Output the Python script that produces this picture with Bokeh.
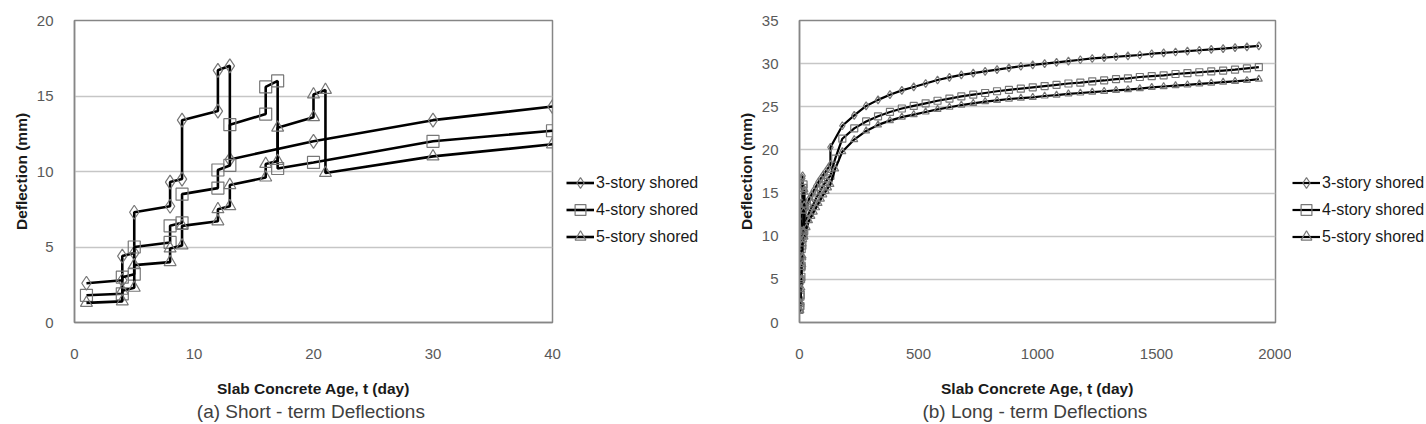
from bokeh.plotting import figure
from bokeh.layouts import row
from bokeh.models import Range1d, FixedTicker, Legend, LegendItem, LinearAxis
from bokeh.embed import file_html
from bokeh.resources import INLINE

# ---------------- data ----------------
series_names = ["3-story shored", "4-story shored", "5-story shored"]
markers = ["diamond", "square", "triangle"]

# (a) short-term deflections (day, mm)
st3_day = [1, 4, 4, 5, 5, 8, 8, 9, 9, 12, 12, 13, 13, 20, 30, 40]
st3_defl = [2.6, 2.8, 4.4, 4.6, 7.3, 7.7, 9.3, 9.5, 13.4, 14.0, 16.7, 17.0, 10.8, 12.0, 13.4, 14.3]

st4_day = [1, 4, 4, 5, 5, 8, 8, 9, 9, 12, 12, 13, 13, 16, 16, 17, 17, 20, 30, 40]
st4_defl = [1.8, 1.9, 3.0, 3.2, 5.0, 5.3, 6.4, 6.6, 8.5, 8.9, 10.1, 10.4, 13.1, 13.8, 15.6, 16.0, 10.2, 10.6, 12.0, 12.7]

st5_day = [1, 4, 4, 5, 5, 8, 8, 9, 9, 12, 12, 13, 13, 16, 16, 17, 17, 20, 20, 21, 21, 30, 40]
st5_defl = [1.3, 1.4, 2.1, 2.3, 3.8, 4.0, 4.9, 5.1, 6.4, 6.7, 7.5, 7.7, 9.1, 9.6, 10.5, 10.7, 12.9, 13.6, 15.1, 15.4, 9.9, 11.0, 11.8]

# (b) long-term deflections: early part after day 40
e3_day = [50, 60, 70, 80, 90, 100, 110, 120, 130, 130]
e3_defl = [14.8, 15.3, 15.8, 16.3, 16.7, 17.1, 17.5, 17.9, 18.3, 20.3]
e4_day = [50, 60, 70, 80, 90, 100, 110, 120, 130, 150]
e4_defl = [13.3, 13.8, 14.4, 14.9, 15.4, 15.9, 16.3, 16.7, 17.0, 19.0]
e5_day = [50, 60, 70, 80, 90, 100, 110, 120, 130, 150]
e5_defl = [12.3, 12.8, 13.3, 13.8, 14.3, 14.8, 15.2, 15.6, 16.0, 17.8]

# (b) long-term deflections: later part
lt_day = [180, 230, 280, 330, 380, 430, 480, 530, 580, 630, 680, 730, 780, 830, 880,
          930, 980, 1030, 1080, 1130, 1180, 1230, 1280, 1330, 1380, 1430, 1480, 1530,
          1580, 1630, 1680, 1730, 1780, 1830, 1880, 1930]
lt3_defl = [22.8, 24.0, 25.1, 25.8, 26.4, 26.9, 27.3, 27.7, 28.1, 28.4, 28.7, 28.9, 29.1,
            29.3, 29.5, 29.7, 29.85, 30.0, 30.15, 30.3, 30.45, 30.6, 30.7, 30.8, 30.9, 31.0,
            31.15, 31.25, 31.35, 31.45, 31.55, 31.65, 31.75, 31.85, 31.95, 32.05]
lt4_defl = [21.3, 22.5, 23.3, 23.9, 24.4, 24.8, 25.1, 25.4, 25.7, 25.95, 26.2, 26.4, 26.6,
            26.8, 26.95, 27.1, 27.25, 27.4, 27.55, 27.7, 27.8, 27.95, 28.05, 28.2, 28.3, 28.45,
            28.55, 28.65, 28.8, 28.9, 29.0, 29.1, 29.2, 29.3, 29.45, 29.6]
lt5_defl = [19.8, 21.2, 22.2, 22.9, 23.4, 23.8, 24.1, 24.4, 24.7, 24.95, 25.2, 25.4, 25.6,
            25.75, 25.9, 26.0, 26.1, 26.25, 26.35, 26.5, 26.6, 26.7, 26.8, 26.9, 27.0, 27.1,
            27.25, 27.35, 27.45, 27.55, 27.65, 27.75, 27.85, 27.95, 28.05, 28.2]

x_ticks_a = [0, 10, 20, 30, 40]
y_ticks_a = [0, 5, 10, 15, 20]
x_ticks_b = [0, 500, 1000, 1500, 2000]
y_ticks_b = [0, 5, 10, 15, 20, 25, 30, 35]

x_title = "Slab Concrete Age, t (day)"
y_title = "Deflection (mm)"
caption_a = "(a)  Short - term Deflections"
caption_b = "(b)  Long - term Deflections"

FONT = "Liberation Sans"
AXIS_GRAY = "#868686"
GRID_GRAY = "#c6c6c6"
TICK_COLOR = "#595959"


def make_fig(width, border_left, border_right, xticks, yticks):
    p = figure(width=width, height=424, x_range=Range1d(xticks[0], xticks[-1]),
               y_range=Range1d(yticks[0], yticks[-1]), output_backend="svg",
               toolbar_location=None, min_border_left=border_left,
               min_border_right=border_right, min_border_top=20, min_border_bottom=102)
    p.outline_line_color = AXIS_GRAY
    p.outline_line_width = 1.5
    p.background_fill_color = "white"
    p.border_fill_color = "white"
    p.xgrid.grid_line_color = None
    p.ygrid.grid_line_color = GRID_GRAY
    p.ygrid.grid_line_width = 1.3
    p.xaxis.ticker = FixedTicker(ticks=xticks)
    p.yaxis.ticker = FixedTicker(ticks=yticks)
    for ax in (p.xaxis, p.yaxis):
        ax.axis_line_color = AXIS_GRAY
        ax.axis_line_width = 1.5
        ax.major_tick_line_color = None
        ax.minor_tick_line_color = None
        ax.major_label_text_font = FONT
        ax.major_label_text_font_size = "15px"
        ax.major_label_text_color = TICK_COLOR
        ax.axis_label_text_font = FONT
        ax.axis_label_text_font_size = "15.5px"
        ax.axis_label_text_font_style = "bold"
        ax.axis_label_text_color = "#1a1a1a"
    p.xaxis.axis_label = x_title
    p.yaxis.axis_label = y_title
    p.xaxis.major_label_standoff = 20
    p.xaxis.axis_label_standoff = 18
    p.yaxis.major_label_standoff = 15
    p.yaxis.axis_label_standoff = 4
    return p


def add_caption(p, text):
    cap = LinearAxis(ticker=FixedTicker(ticks=[]),
                     axis_line_color=None, major_tick_line_color=None,
                     minor_tick_line_color=None, major_label_text_font_size="0px",
                     axis_label=text, axis_label_standoff=1,
                     axis_label_text_font=FONT, axis_label_text_font_size="19px",
                     axis_label_text_font_style="normal",
                     axis_label_text_color="#404040")
    p.add_layout(cap, "below")


def add_series(p, data, msize, lw):
    for (xs, ys), mk in zip(data, markers):
        p.line(xs, ys, line_color="black", line_width=lw)
        p.scatter(xs, ys, marker=mk, size=msize[mk], line_color="#777777",
                  line_width=1.2, fill_alpha=0)


def legend_fig(width, data, msize, lw, loc):
    # a narrow panel right of the plot holding the series key; its ranges sit
    # outside the data so only the legend itself is visible here
    f = figure(width=width, height=424, x_range=Range1d(-2, -1), y_range=Range1d(-2, -1),
               output_backend="svg", toolbar_location=None, min_border=0,
               x_axis_location=None, y_axis_location=None)
    f.outline_line_color = None
    f.grid.grid_line_color = None
    items = []
    for (xs, ys), name, mk in zip(data, series_names, markers):
        ln = f.line(xs, ys, line_color="black", line_width=lw)
        sc = f.scatter(xs, ys, marker=mk, size=msize[mk], line_color="#777777",
                       line_width=1.2, fill_alpha=0)
        items.append(LegendItem(label=name, renderers=[ln, sc]))
    lg = Legend(items=items, location=loc, orientation="vertical",
                background_fill_alpha=0, border_line_color=None,
                padding=0, margin=0, spacing=0,
                glyph_width=28, glyph_height=27, label_height=27,
                label_standoff=2,
                label_text_font=FONT, label_text_font_size="16px",
                label_text_color="#1a1a1a")
    f.add_layout(lg)
    return f


size_a = {"diamond": 14, "square": 12, "triangle": 12}
size_b = {"diamond": 8, "square": 7, "triangle": 7}

# ---------------- (a) ----------------
data_a = [(st3_day, st3_defl), (st4_day, st4_defl), (st5_day, st5_defl)]
pa = make_fig(562, 74, 10, x_ticks_a, y_ticks_a)
add_series(pa, data_a, size_a, 2.6)
add_caption(pa, caption_a)
la = legend_fig(158, data_a, size_a, 2.6, (4, 72))

# ---------------- (b) ----------------
b3_day = st3_day + e3_day + lt_day
b3_defl = st3_defl + e3_defl + lt3_defl
b4_day = st4_day + e4_day + lt_day
b4_defl = st4_defl + e4_defl + lt4_defl
b5_day = st5_day + e5_day + lt_day
b5_defl = st5_defl + e5_defl + lt5_defl
data_b = [(b3_day, b3_defl), (b4_day, b4_defl), (b5_day, b5_defl)]

pb = make_fig(571, 79, 16, x_ticks_b, y_ticks_b)
add_series(pb, data_b, size_b, 2.2)
add_caption(pb, caption_b)
lb = legend_fig(135, data_b, size_b, 2.2, (1, 72))

layout = row(pa, la, pb, lb, spacing=0)
open("out.html", "w").write(file_html(layout, INLINE))
